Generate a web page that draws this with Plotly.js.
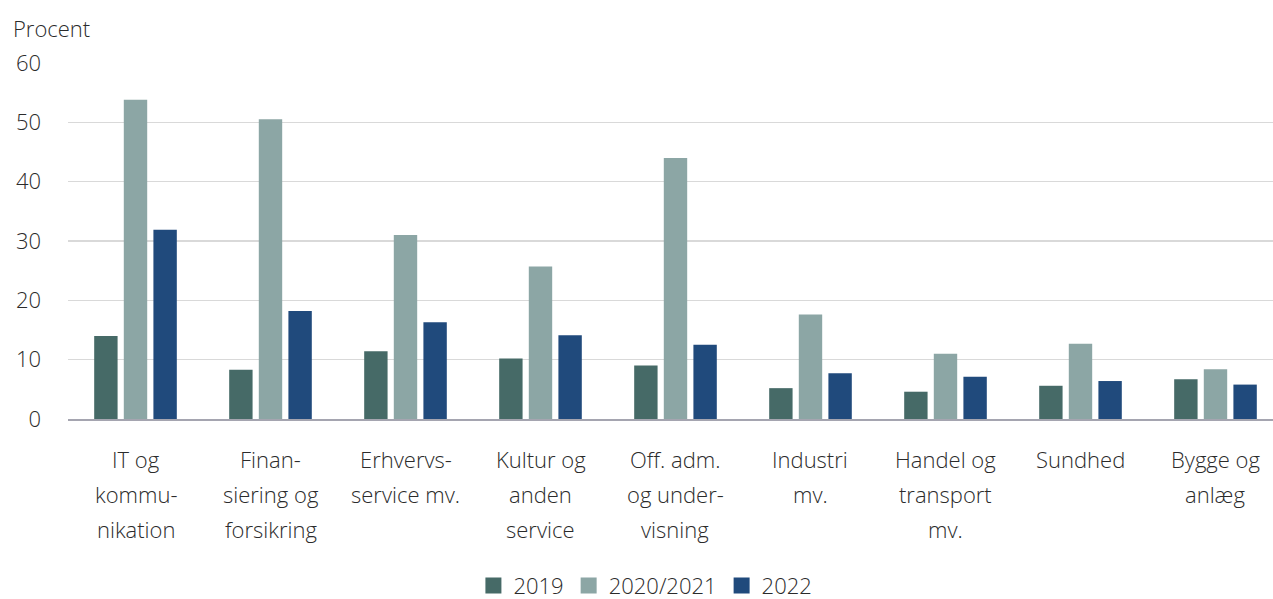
<!DOCTYPE html>
<html>
<head>
<meta charset="utf-8">
<script src="https://cdn.plot.ly/plotly-3.0.1.min.js"></script>
<style>html,body{margin:0;padding:0;background:#fff;}#chart{width:1273px;height:599px;}</style>
</head>
<body>
<div id="chart"></div>
<script>
// Categories (each entry = lines of the label)
const categoryLines = [
  ["IT og", "kommu-", "nikation"],
  ["Finan-", "siering og", "forsikring"],
  ["Erhvervs-", "service mv."],
  ["Kultur og", "anden", "service"],
  ["Off. adm.", "og under-", "visning"],
  ["Industri", "mv."],
  ["Handel og", "transport", "mv."],
  ["Sundhed"],
  ["Bygge og", "anlæg"]
];
const categories = categoryLines.map(l => l.join(" "));

const seriesNames = ["2019", "2020/2021", "2022"];
const values2019 = [14.0, 8.3, 11.4, 10.2, 9.0, 5.2, 4.6, 5.6, 6.7];
const values2021 = [53.8, 50.5, 31.0, 25.7, 44.0, 17.6, 11.0, 12.7, 8.4];
const values2022 = [31.9, 18.2, 16.3, 14.1, 12.5, 7.7, 7.1, 6.4, 5.8];
const seriesColors = ["#466a67", "#8ca6a5", "#204a7c"];

const yTicks = [0, 10, 20, 30, 40, 50, 60];
const yTitle = "Procent";

const FONT = "'Segoe UI Light', 'Segoe UI', 'Open Sans', sans-serif";
const TXT = "#2b2b2b";
const FS = 22;
const fnt = {family: FONT, size: FS, color: TXT, weight: 300};

const allValues = [values2019, values2021, values2022];
const traces = allValues.map((v, i) => ({
  type: "bar",
  name: seriesNames[i],
  x: categories,
  y: v,
  marker: {color: seriesColors[i], line: {width: 0}},
  showlegend: false,
  hoverinfo: "x+y+name"
}));
// legend entries with larger square symbols
seriesNames.forEach((n, i) => {
  traces.push({
    type: "scatter", mode: "markers", name: n,
    x: [categories[0]], y: [null],
    marker: {symbol: "square", size: 16, color: seriesColors[i]},
    showlegend: true, hoverinfo: "skip"
  });
});

const annotations = [];
categoryLines.forEach((lines, i) => {
  lines.forEach((line, j) => {
    annotations.push({
      x: categories[i], xref: "x", y: 0, yref: "y",
      text: line, showarrow: false,
      xanchor: "center", yanchor: "middle",
      yshift: -(40 + 35 * j),
      font: fnt
    });
  });
});
annotations.push({
  x: 0, xref: "paper", y: 1, yref: "paper",
  xshift: -57, yshift: 35,
  xanchor: "left", yanchor: "middle",
  text: yTitle, showarrow: false,
  font: fnt
});

const layout = {
  width: 1273, height: 599,
  margin: {l: 68, r: 0, t: 63, b: 180, autoexpand: false},
  paper_bgcolor: "#fff", plot_bgcolor: "#fff",
  barmode: "group",
  bargap: 0.342,
  bargroupgap: 0.21,
  font: fnt,
  xaxis: {
    type: "category",
    range: [-0.5, 8.426],
    showticklabels: false,
    showgrid: false,
    showline: true, linecolor: "#a5a5b0", linewidth: 1.5,
    ticks: "", zeroline: false,
    fixedrange: true
  },
  yaxis: {
    range: [0, 60],
    tickvals: yTicks,
    ticktext: yTicks.map(String),
    showgrid: true, gridcolor: "#d9d9d9", gridwidth: 1.5,
    zeroline: false, showline: false, ticks: "",
    ticklabelstandoff: 26,
    tickfont: fnt,
    fixedrange: true
  },
  showlegend: true,
  legend: {
    orientation: "h",
    xref: "container", yref: "container",
    x: 0.507, xanchor: "center",
    y: 0.022, yanchor: "middle",
    font: fnt,
    itemwidth: 30,
    traceorder: "normal"
  },
  annotations: annotations
};

Plotly.newPlot("chart", traces, layout, {displayModeBar: false, staticPlot: true});
</script>
</body>
</html>
